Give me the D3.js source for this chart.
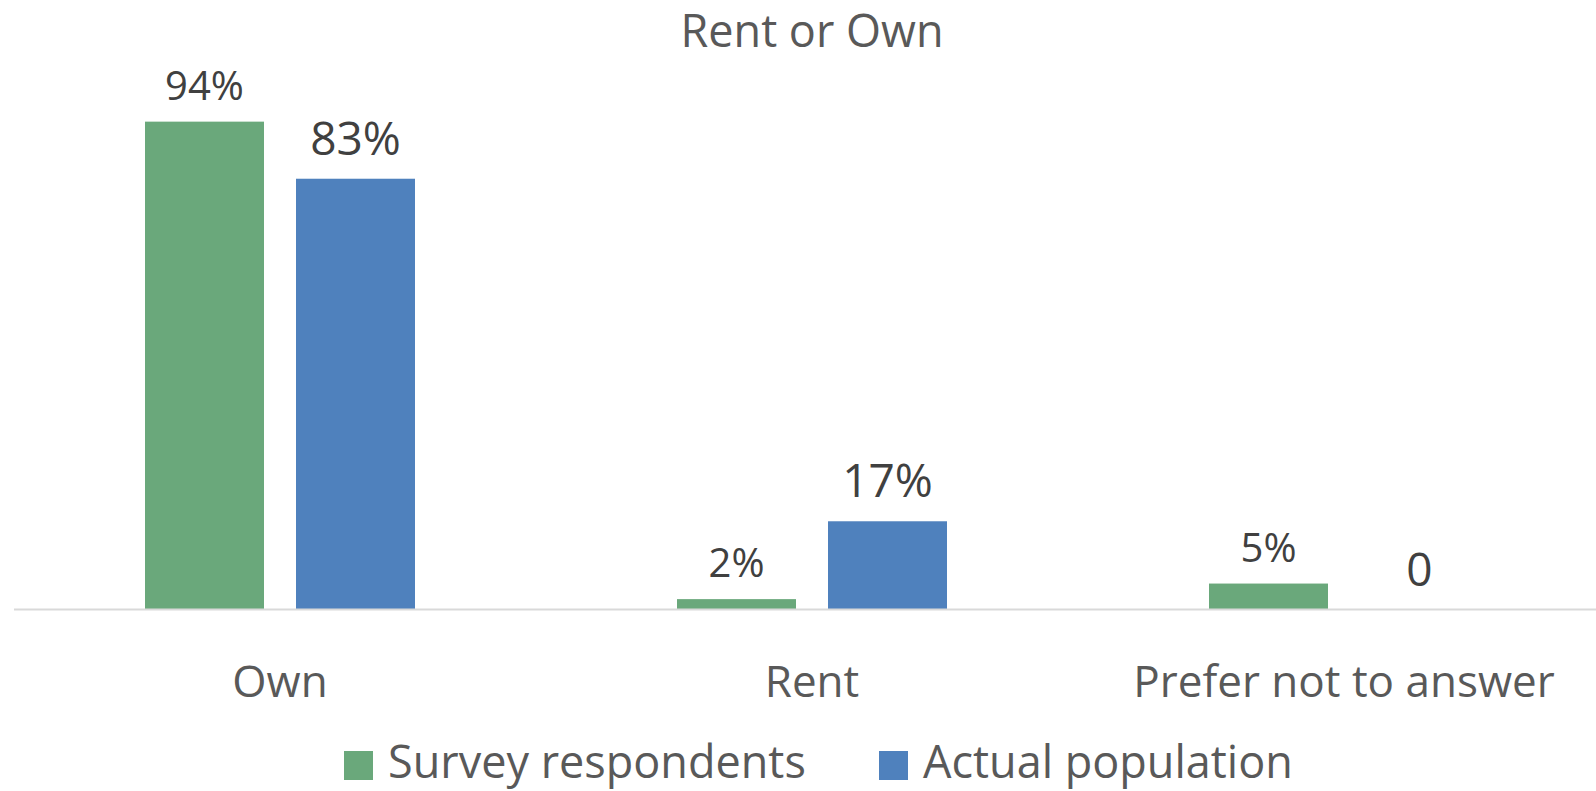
<!DOCTYPE html>
<html>
<head>
<meta charset="utf-8">
<script src="https://cdn.jsdelivr.net/npm/d3@7"></script>
<style>
  body { margin: 0; background: #fff; }
  text { font-family: "Segoe UI", "Open Sans", sans-serif; }
</style>
</head>
<body>
<script>
'use strict';

// chart data
const categories = ["Own", "Rent", "Prefer not to answer"];
const seriesNames = ["Survey respondents", "Actual population"];
const surveyValues = [94, 2, 5];
const actualValues = [83, 17, 0];
const colors = ["#6aa87b", "#4f81bd"];

(function() {
  let width = 1596;
  let height = 791;
  let baseline = 609.5;

  let svg = d3.select('body')
    .append('svg')
    .attr('width', width)
    .attr('height', height);

  let series = [surveyValues, actualValues];
  // label sizes differ per series in the original
  let labelSize = [40, 46];
  let labelGap = [22, 24];

  // category bands, each 532px wide
  let x0 = d3.scaleBand()
    .domain(categories)
    .range([14, 1610]);

  // the pair of bars inside a category
  let x1 = d3.scaleBand()
    .domain(seriesNames)
    .range([0, 270])
    .paddingInner(0.212);

  let y = d3.scaleLinear()
    .domain([0, 100])
    .range([baseline, baseline - 519]);

  // title
  svg.append("text")
    .attr("x", 812)
    .attr("y", 47)
    .attr("text-anchor", "middle")
    .style("font-size", "45px")
    .style("fill", "#595959")
    .text("Rent or Own");

  // bars and labels
  series.forEach(function(vals, si) {
    let g = svg.append("g");
    let offset = (d, i) => x0(categories[i]) + x0.bandwidth() / 2 - 135 + x1(seriesNames[si]);

    g.selectAll("rect")
      .data(vals)
      .enter()
      .append("rect")
        .attr("x", offset)
        .attr("y", (d) => y(d))
        .attr("width", x1.bandwidth())
        .attr("height", (d) => baseline - y(d))
        .attr("fill", colors[si]);

    g.selectAll("text")
      .data(vals)
      .enter()
      .append("text")
        .attr("x", (d, i) => offset(d, i) + x1.bandwidth() / 2)
        .attr("y", (d) => y(d) - labelGap[si])
        .attr("text-anchor", "middle")
        .style("font-size", labelSize[si] + "px")
        .style("fill", "#404040")
        .text((d) => d === 0 ? "0" : d + "%");
  });

  // x axis line
  svg.append("line")
    .attr("x1", 14)
    .attr("x2", width)
    .attr("y1", baseline)
    .attr("y2", baseline)
    .attr("stroke", "#d9d9d9")
    .attr("stroke-width", 2);

  // category labels
  svg.selectAll(".cat")
    .data(categories)
    .enter()
    .append("text")
      .attr("class", "cat")
      .attr("x", (d) => x0(d) + x0.bandwidth() / 2)
      .attr("y", 697)
      .attr("text-anchor", "middle")
      .style("font-size", "44px")
      .style("fill", "#595959")
      .text((d) => d);

  // legend
  let legendX = [344, 879];
  let legend = svg.selectAll(".legend")
    .data(seriesNames)
    .enter()
    .append("g")
      .attr("class", "legend")
      .attr("transform", (d, i) => "translate(" + legendX[i] + ",751)");

  legend.append("rect")
    .attr("width", 29)
    .attr("height", 29)
    .attr("fill", (d, i) => colors[i]);

  legend.append("text")
    .attr("x", 44)
    .attr("y", 27)
    .style("font-size", "45px")
    .style("fill", "#595959")
    .text((d) => d);
})();
</script>
</body>
</html>
